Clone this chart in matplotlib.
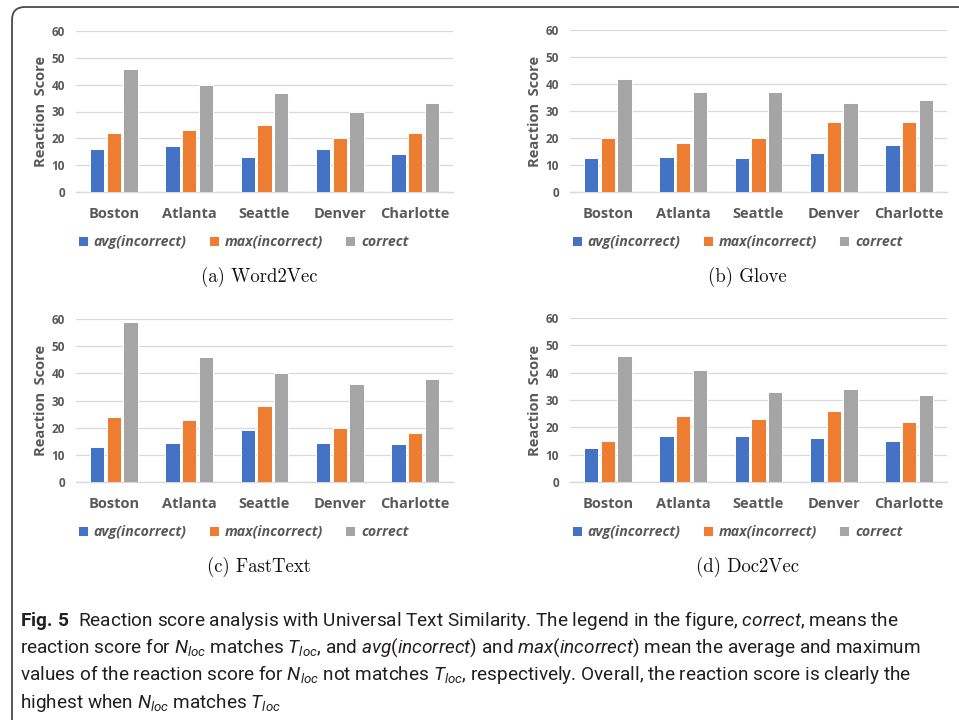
import numpy as np
import matplotlib
matplotlib.use("Agg")
import matplotlib.pyplot as plt
from matplotlib.patches import FancyBboxPatch
from matplotlib.transforms import IdentityTransform

cities = ["Boston", "Atlanta", "Seattle", "Denver", "Charlotte"]
series_names = ["avg(incorrect)", "max(incorrect)", "correct"]
yticks = [0, 10, 20, 30, 40, 50, 60]

# panel (a) Word2Vec
w2v_avg = [16, 17.2, 13.2, 16, 14]
w2v_max = [22, 23, 25, 20, 22]
w2v_correct = [46, 40, 37, 30, 33]
# panel (b) Glove
glove_avg = [12.6, 13, 12.6, 14.4, 17.3]
glove_max = [20, 18, 20, 26, 26]
glove_correct = [42, 37, 37, 33, 34]
# panel (c) FastText
ft_avg = [13, 14.3, 19.2, 14.4, 14]
ft_max = [24, 23, 28, 20, 18]
ft_correct = [59, 46, 40, 36, 38]
# panel (d) Doc2Vec
d2v_avg = [12.5, 17, 17, 16, 15]
d2v_max = [15, 24, 23, 26, 22]
d2v_correct = [46, 41, 33, 34, 32]

captions = ["(a) Word2Vec", "(b) Glove", "(c) FastText", "(d) Doc2Vec"]

colors = ["#4472C4", "#ED7D31", "#A5A5A5"]
txt = "#595959"
grid = "#D9D9D9"

plt.rcParams["mathtext.fontset"] = "custom"
plt.rcParams["mathtext.rm"] = "Roboto"
plt.rcParams["mathtext.it"] = "Roboto:italic"
plt.rcParams["mathtext.bf"] = "Roboto:bold"

W, H = 959, 720
fig = plt.figure(figsize=(W / 100, H / 100), dpi=100)

# rounded frame around the figure
frame = FancyBboxPatch((12, -30), 1000, 720 - 7 + 30,
                       boxstyle="round,pad=0,rounding_size=13",
                       transform=IdentityTransform(), fill=False,
                       edgecolor="#4a4a4a", linewidth=1.3)
fig.add_artist(frame)


def px_rect(left, top, right, bottom):
    return [left / W, 1 - bottom / H, (right - left) / W, (bottom - top) / H]


panels = [
    (px_rect(76, 31, 453, 192), [w2v_avg, w2v_max, w2v_correct], 243, 242, 259, 277),
    (px_rect(570, 30, 947, 192), [glove_avg, glove_max, glove_correct], 737, 242, 747, 277),
    (px_rect(76, 319, 453, 482), [ft_avg, ft_max, ft_correct], 243, 532, 259, 567),
    (px_rect(570, 318, 947, 482), [d2v_avg, d2v_max, d2v_correct], 737, 532, 747, 567),
]

x = np.arange(len(cities))
offsets = [-0.222, 0, 0.222]
bold = dict(fontfamily="Open Sans", fontweight="bold", color=txt)

for i, (rect, data, leg_x, leg_y, cap_x, cap_y) in enumerate(panels):
    ax = fig.add_axes(rect)
    for vals, off, c, name in zip(data, offsets, colors, series_names):
        ax.bar(x + off, vals, width=0.19, color=c, edgecolor="white",
               linewidth=0.7, label=name, zorder=3)
    ax.set_xlim(-0.5, 4.5)
    ax.set_ylim(0, 60)
    ax.set_yticks(yticks)
    ax.set_xticks(x)
    ax.set_xticklabels(cities, fontsize=10.5, **bold)
    ax.set_yticklabels([str(t) for t in yticks], fontsize=8.5, **bold)
    ax.tick_params(axis="both", length=0)
    ax.tick_params(axis="x", pad=11)
    ax.tick_params(axis="y", pad=8)
    ax.grid(axis="y", color=grid, linewidth=0.9, zorder=0)
    for s in ["top", "right", "left"]:
        ax.spines[s].set_visible(False)
    ax.spines["bottom"].set_color(grid)
    ax.spines["bottom"].set_linewidth(1.0)
    ax.set_ylabel("Reaction  Score", fontsize=10.5, **bold)
    ax.yaxis.set_label_coords(-0.075, 0.5)

    ax.legend(loc="center", bbox_to_anchor=(leg_x / W, 1 - leg_y / H),
              bbox_transform=fig.transFigure, ncol=3, frameon=False,
              handlelength=0.7, handleheight=0.7, handletextpad=0.4,
              columnspacing=1.6,
              prop=dict(family="Open Sans", weight="bold", style="italic", size=10.2),
              labelcolor=txt)

    fig.text(cap_x / W, 1 - cap_y / H, captions[i], fontfamily="cmr10",
             fontsize=13.5, ha="center", va="center", color="#111111")

lines = [
    r"$\mathbf{Fig.\,5}$  Reaction score analysis with Universal Text Similarity. The legend in the figure, $\mathit{correct}$, means the",
    r"reaction score for $N_{loc}$ matches $T_{loc}$, and $\mathit{avg}$($\mathit{incorrect}$) and $\mathit{max}$($\mathit{incorrect}$) mean the average and maximum",
    r"values of the reaction score for $N_{loc}$ not matches $T_{loc}$, respectively. Overall, the reaction score is clearly the",
    r"highest when $N_{loc}$ matches $T_{loc}$",
]
line_y = [620, 648, 675, 703]
for s, yy in zip(lines, line_y):
    fig.text(20 / W, 1 - yy / H, s, fontfamily="Roboto", fontsize=13.7,
             ha="left", va="center", color="#231f20")

fig.savefig("out.png", dpi=100)
